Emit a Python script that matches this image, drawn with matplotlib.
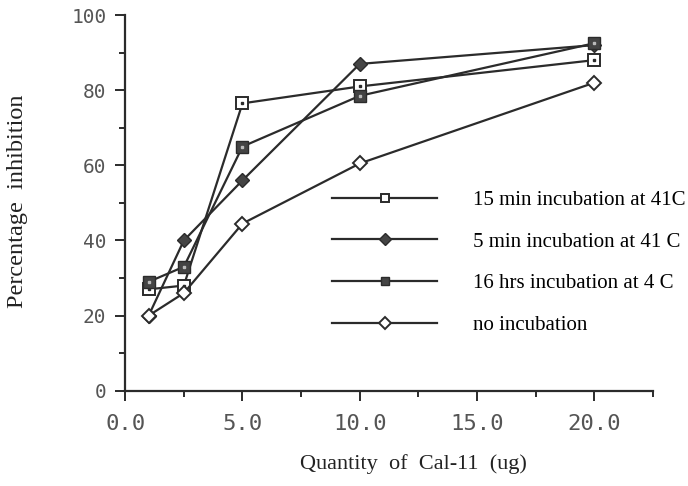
import numpy as np
import matplotlib
matplotlib.use("Agg")
import matplotlib.pyplot as plt
from matplotlib.ticker import MultipleLocator, FormatStrFormatter

# data
quantity = [1.0, 2.5, 5.0, 10.0, 20.0]
min15_41 = [27, 28, 76.5, 81, 88]
min5_41 = [20, 40, 56, 87, 92]
hrs16_4 = [29, 33, 65, 78.5, 92.5]
no_incub = [20, 26, 44.5, 60.5, 82]
labels = ["15 min incubation at 41C", "5 min incubation at 41 C",
          "16 hrs incubation at 4 C", "no incubation"]

ink = "#2b2b2b"
serif = ["Liberation Serif", "DejaVu Serif"]
mono = ["DejaVu Sans Mono", "Liberation Mono"]

fig = plt.figure(figsize=(6.88, 4.86), dpi=100)
ax = fig.add_axes([0.182, 0.196, 0.767, 0.773])

lw = 1.6
ax.plot(quantity, min15_41, color=ink, lw=lw, marker="s", ms=9, mfc="white", mec=ink, mew=1.4, label=labels[0])
ax.plot(quantity, min15_41, ls="none", marker="s", ms=2, mfc=ink, mec=ink)
ax.plot(quantity, min5_41, color=ink, lw=lw, marker="D", ms=7, mfc="#444444", mec=ink, label=labels[1])
ax.plot(quantity, hrs16_4, color=ink, lw=lw, marker="s", ms=9, mfc="#444444", mec=ink, label=labels[2])
ax.plot(quantity, hrs16_4, ls="none", marker="s", ms=2, mfc="#bbbbbb", mec="#bbbbbb")
ax.plot(quantity, no_incub, color=ink, lw=lw, marker="D", ms=7, mfc="white", mec=ink, mew=1.4, label=labels[3])

ax.set_xlim(0, 22.5)
ax.set_ylim(0, 100)
ax.xaxis.set_major_locator(MultipleLocator(5))
ax.xaxis.set_minor_locator(MultipleLocator(2.5))
ax.yaxis.set_major_locator(MultipleLocator(20))
ax.yaxis.set_minor_locator(MultipleLocator(10))
ax.xaxis.set_major_formatter(FormatStrFormatter("%.1f"))

for s in ["top", "right"]:
    ax.spines[s].set_visible(False)
for s in ["left", "bottom"]:
    ax.spines[s].set_linewidth(1.6)
    ax.spines[s].set_color(ink)
ax.tick_params(which="both", direction="out", width=1.4, colors=ink)
ax.tick_params(which="major", length=7.5)
ax.tick_params(which="minor", length=4)
ax.tick_params(axis="x", pad=9, labelsize=16)
ax.tick_params(axis="y", pad=6, labelsize=14)
for t in ax.get_xticklabels() + ax.get_yticklabels():
    t.set_color("#555555")
    t.set_family(mono)

ax.set_xlabel("Quantity  of  Cal-11  (ug)", fontsize=16, family=serif, color="#222222", va="top")
ax.xaxis.set_label_coords(0.547, -0.168)
ax.set_ylabel("Percentage  inhibition", fontsize=17.5, family=serif, color="#222222")
ax.yaxis.set_label_coords(-0.184, 0.505)

h, l = ax.get_legend_handles_labels()
leg = ax.legend(h, l, loc="upper left", bbox_to_anchor=(0.392, 0.533), frameon=False,
                borderaxespad=0, borderpad=0,
                handlelength=5.05, handletextpad=1.7, labelspacing=1.06,
                prop={"family": serif, "size": 15})
for lh in leg.legend_handles:
    lh.set_markersize(6)

fig.savefig("out.png", dpi=100)
